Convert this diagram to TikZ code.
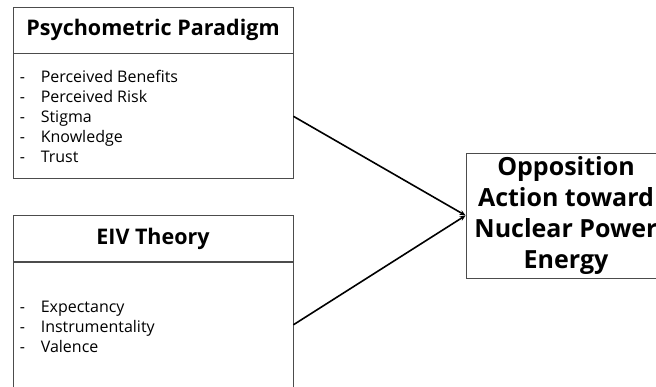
\documentclass[tikz,border=0pt]{standalone}
\usepackage{fontspec}
\setmainfont{Open Sans}
\usepackage{tikz}
\usetikzlibrary{arrows.meta,positioning}

\tikzset{
  head/.style={draw=black!70, line width=0.8pt, minimum width=280pt, minimum height=46pt,
    inner sep=0pt, font=\fontsize{21.5}{24}\selectfont\bfseries},
  body/.style={draw=black!70, line width=0.8pt, minimum width=280pt, minimum height=125pt,
    inner sep=0pt},
  items/.style={anchor=north west, align=left, inner sep=0pt,
    font=\fontsize{16}{20}\selectfont},
  result/.style={draw=black!70, line width=0.8pt, minimum width=200pt, minimum height=125pt,
    align=center, font=\fontsize{25}{31}\selectfont\bfseries},
  link/.style={line width=1.6pt, -{Stealth[length=6pt,width=5pt]}}
}
\newcommand{\itm}[1]{\makebox[21pt][l]{-}#1}

\begin{document}
\begin{tikzpicture}[x=1pt,y=1pt]
\useasboundingbox (0,0) rectangle (656,386);
\clip (0,0) rectangle (656,386);
% left column
\node[head] (pph) at (153,356) {Psychometric Paradigm};
\node[body, below=0pt of pph] (ppb) {};
\node[items] (ppl) at ([xshift=7pt,yshift=-17pt]ppb.north west) {\itm{Perceived Benefits}\\ \itm{Perceived Risk}\\ \itm{Stigma}\\ \itm{Knowledge}\\ \itm{Trust}};
\node[head] (eivh) at (153,147.5) {EIV Theory};
\node[body, below=0pt of eivh] (eivb) {};
\node[items] (eivl) at ([xshift=7pt,yshift=-39pt]eivb.north west) {\itm{Expectancy}\\ \itm{Instrumentality}\\ \itm{Valence}};
% right
\node[result] (opp) at (566,170.5) {Opposition\\ Action toward\\ Nuclear Power\\ Energy};
\draw[link] (ppb.east) -- (opp.west);
\draw[link] (eivb.east) -- (opp.west);
\end{tikzpicture}
\end{document}
